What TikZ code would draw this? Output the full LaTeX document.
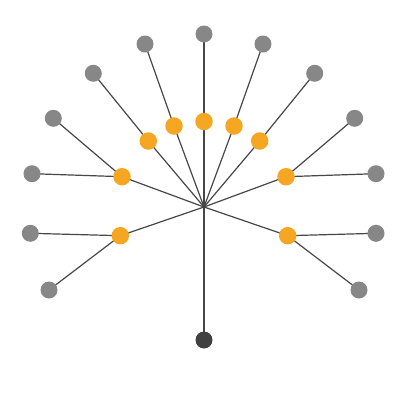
\documentclass[tikz,border=0pt]{standalone}
\usetikzlibrary{backgrounds}
\definecolor{orange1}{HTML}{F5A623}
\begin{document}
\begin{tikzpicture}[x=1pt,y=-1pt,
  edge/.style={draw=black!72,line width=1.2pt},
  leaf/.style={circle,fill=black!47,inner sep=0pt,minimum size=17pt},
  mid/.style={circle,fill=orange1,inner sep=0pt,minimum size=17.5pt},
  rootn/.style={circle,fill=black!75,inner sep=0pt,minimum size=17pt},
  hub/.style={circle,fill=black!75,inner sep=0pt,minimum size=2pt}]
\useasboundingbox (0,0) rectangle (400,400);
% hub and root
\node[hub] (c) at (204,207) {};
\node[rootn] (r) at (204,340) {};
% orange nodes
\node[mid] (o1) at (204,121.5) {};
\node[mid] (o2) at (174,126) {};
\node[mid] (o3) at (234,126) {};
\node[mid] (o4) at (148.3,141) {};
\node[mid] (o5) at (259.7,141) {};
\node[mid] (o6) at (122,176.7) {};
\node[mid] (o7) at (286,176.7) {};
\node[mid] (o8) at (120.3,235.7) {};
\node[mid] (o9) at (287.7,235.7) {};
% gray leaves
\node[leaf] (g1) at (204,34) {};
\node[leaf] (g2) at (145,44) {};
\node[leaf] (g3) at (263,44) {};
\node[leaf] (g4) at (93.3,73.3) {};
\node[leaf] (g5) at (314.7,73.3) {};
\node[leaf] (g6) at (53.3,118.3) {};
\node[leaf] (g7) at (354.7,118.3) {};
\node[leaf] (g8) at (32,173.7) {};
\node[leaf] (g9) at (376,173.7) {};
\node[leaf] (g10) at (30.3,233.3) {};
\node[leaf] (g11) at (376,233.3) {};
\node[leaf] (g12) at (49,290) {};
\node[leaf] (g13) at (359,290) {};
\begin{scope}[on background layer]
\fill[white] (0,0) rectangle (400,400);
\foreach \o in {o1,o2,o3,o4,o5,o6,o7,o8,o9,r}{\draw[edge] (c.center) -- (\o.center);}
\draw[edge] (o1.center) -- (g1.center);
\draw[edge] (o2.center) -- (g2.center);
\draw[edge] (o3.center) -- (g3.center);
\draw[edge] (o4.center) -- (g4.center);
\draw[edge] (o5.center) -- (g5.center);
\draw[edge] (o6.center) -- (g6.center);
\draw[edge] (o6.center) -- (g8.center);
\draw[edge] (o7.center) -- (g7.center);
\draw[edge] (o7.center) -- (g9.center);
\draw[edge] (o8.center) -- (g10.center);
\draw[edge] (o8.center) -- (g12.center);
\draw[edge] (o9.center) -- (g11.center);
\draw[edge] (o9.center) -- (g13.center);
\end{scope}
\end{tikzpicture}
\end{document}
